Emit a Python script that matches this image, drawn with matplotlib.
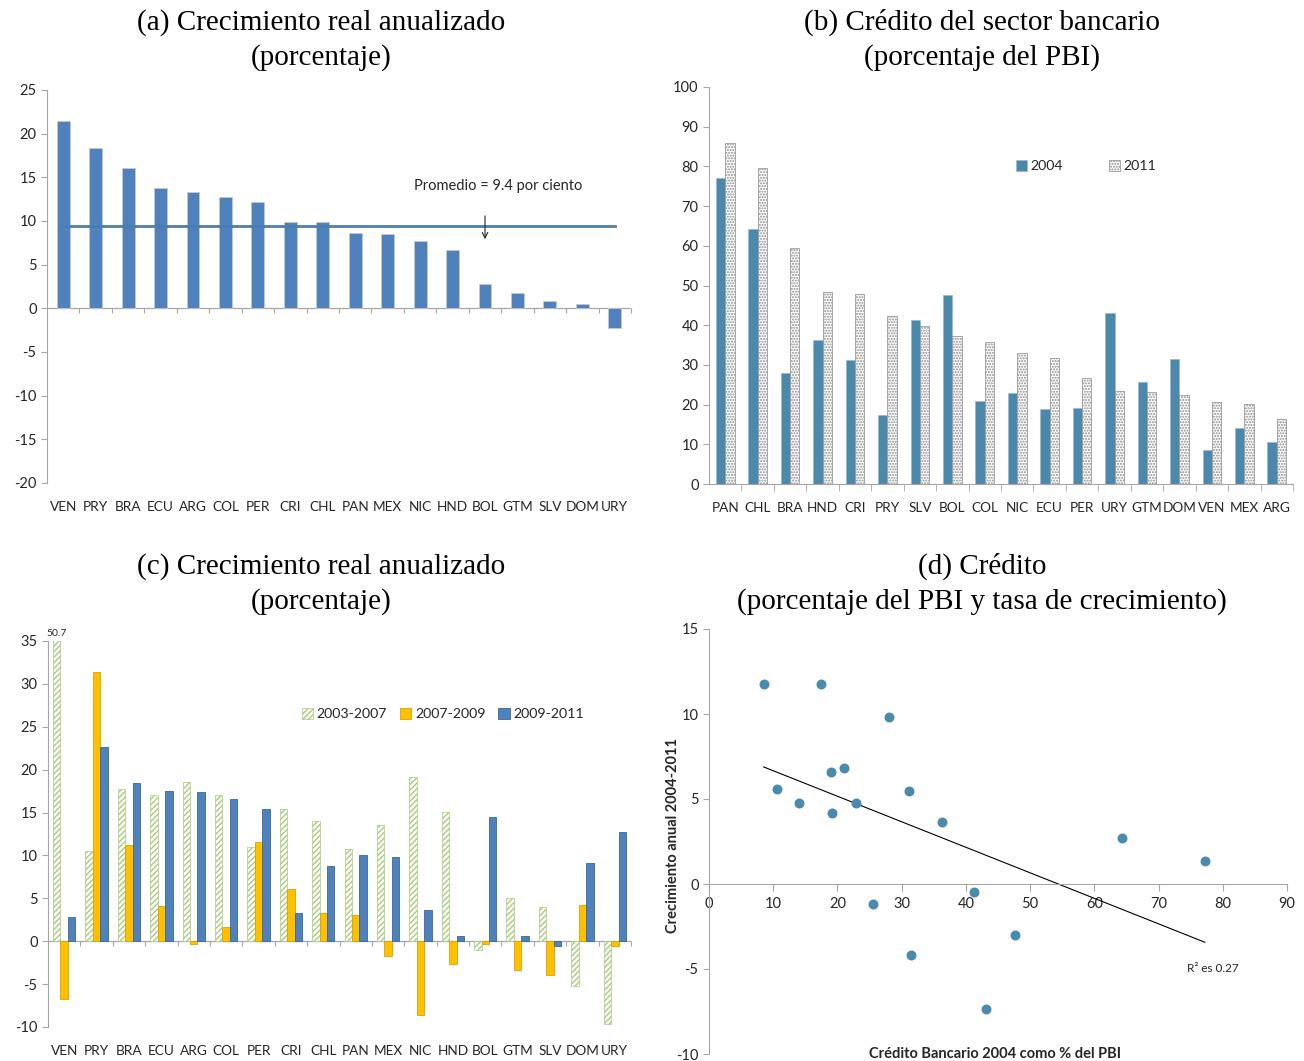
import numpy as np
import matplotlib
matplotlib.use("Agg")
import matplotlib.pyplot as plt

plt.rcParams['font.family'] = ['Lato', 'DejaVu Sans']
plt.rcParams['hatch.linewidth'] = 1.0
plt.rcParams['axes.unicode_minus'] = False

# panel (a)
a_paises = ['VEN', 'PRY', 'BRA', 'ECU', 'ARG', 'COL', 'PER', 'CRI', 'CHL', 'PAN',
            'MEX', 'NIC', 'HND', 'BOL', 'GTM', 'SLV', 'DOM', 'URY']
a_crec = [21.5, 18.4, 16.1, 13.8, 13.3, 12.8, 12.2, 9.9, 9.9, 8.6,
          8.5, 7.7, 6.7, 2.8, 1.7, 0.8, 0.5, -2.2]
promedio = 9.4

# panel (b)
b_paises = ['PAN', 'CHL', 'BRA', 'HND', 'CRI', 'PRY', 'SLV', 'BOL', 'COL', 'NIC',
            'ECU', 'PER', 'URY', 'GTM', 'DOM', 'VEN', 'MEX', 'ARG']
b_2004 = [77.2, 64.3, 28.0, 36.3, 31.2, 17.4, 41.2, 47.6, 21.0, 22.9,
          19.0, 19.2, 43.1, 25.6, 31.5, 8.5, 14.0, 10.6]
b_2011 = [86.0, 79.5, 59.4, 48.3, 47.8, 42.3, 39.8, 37.3, 35.7, 33.0,
          31.7, 26.6, 23.4, 23.2, 22.4, 20.7, 20.2, 16.4]

# panel (c)
c_paises = a_paises
c_0307 = [50.7, 10.5, 17.7, 17.1, 18.6, 17.0, 11.0, 15.4, 14.0, 10.8,
          13.5, 19.2, 15.1, -1.0, 5.0, 4.0, -5.2, -9.7]
c_0709 = [-6.7, 31.4, 11.2, 4.1, -0.3, 1.6, 11.6, 6.1, 3.3, 3.0,
          -1.7, -8.6, -2.6, -0.3, -3.4, -3.9, 4.2, -0.6]
c_0911 = [2.8, 22.7, 18.4, 17.5, 17.4, 16.6, 15.4, 3.3, 8.8, 10.1,
          9.8, 3.6, 0.6, 14.5, 0.6, -0.5, 9.1, 12.7]

# panel (d): credito 2004 vs crecimiento anual 2004-2011
d_paises = ['VEN', 'PRY', 'BRA', 'ECU', 'COL', 'ARG', 'MEX', 'PER', 'NIC', 'CRI',
            'HND', 'CHL', 'PAN', 'SLV', 'GTM', 'DOM', 'BOL', 'URY']
d_credito = [8.5, 17.4, 28.0, 19.0, 21.0, 10.6, 14.0, 19.2, 22.9, 31.2,
             36.3, 64.3, 77.2, 41.2, 25.6, 31.5, 47.6, 43.1]
d_crec = [11.75, 11.75, 9.85, 6.6, 6.85, 5.6, 4.75, 4.2, 4.75, 5.5,
          3.65, 2.7, 1.35, -0.45, -1.2, -4.2, -3.0, -7.35]

GRIS = '#a6a6a6'
TXT = '#262626'
W, H = 1304, 1061


def box(l, t, r, b):
    return [l / W, 1 - b / H, (r - l) / W, (b - t) / H]


def estilo(ax):
    for s in ['top', 'right']:
        ax.spines[s].set_visible(False)
    for s in ['left', 'bottom']:
        ax.spines[s].set_color(GRIS)
    ax.tick_params(colors=GRIS, labelcolor=TXT, labelsize=10.5)
    ax.tick_params(axis='x', labelsize=9.8)
    ax.tick_params(axis='y', length=4)


def marcas_cat(ax, n, largo):
    bordes = np.arange(n + 1) - 0.5
    ax.vlines(bordes[1:], 0, -largo, color=GRIS, lw=0.8, clip_on=False)


def leyenda(ax, px, py, **kw):
    ax.legend(loc='center left', bbox_to_anchor=(px / W, 1 - py / H),
              bbox_transform=fig.transFigure, frameon=False, fontsize=10.2,
              handlelength=0.8, handleheight=0.8, handletextpad=0.25,
              borderpad=0, borderaxespad=0, labelcolor=TXT, **kw)


fig = plt.figure(figsize=(W / 100, H / 100), dpi=100)
tfont = dict(family='Liberation Serif', fontsize=21, linespacing=1.42)

# ---------- (a)
ax = fig.add_axes(box(47, 90, 631, 483))
estilo(ax)
x = np.arange(len(a_paises))
ax.bar(x, a_crec, width=0.4, color='#4f81bd', edgecolor='#c8c8c8', lw=0.6, zorder=2)
ax.plot([x[0], x[-1]], [promedio, promedio], color='#4a7eb0', lw=2, zorder=3)
ax.axhline(0, color=GRIS, lw=0.9, zorder=1)
marcas_cat(ax, len(x), 0.55)
ax.set_xlim(-0.5, len(x) - 0.5)
ax.set_ylim(-20, 25)
ax.set_yticks(np.arange(-20, 26, 5))
ax.set_xticks(x, a_paises)
ax.tick_params(axis='x', length=0, pad=13)
ax.spines['bottom'].set_visible(False)
ax.annotate('', xy=(13, 7.6), xytext=(13, 10.9),
            arrowprops=dict(arrowstyle='->', color=TXT, lw=0.8))
ax.text(13.4, 14.0, 'Promedio = 9.4 por ciento', ha='center', va='center',
        fontsize=10.5, color=TXT)
fig.text(321 / W, 1 - 40 / H, '(a) Crecimiento real anualizado\n(porcentaje)',
         ha='center', va='center', **tfont)

# ---------- (b)
ax = fig.add_axes(box(709, 87, 1293, 484))
estilo(ax)
x = np.arange(len(b_paises))
w = 0.287
ax.bar(x - w / 2, b_2004, width=w, color='#4a89ac', edgecolor='#9ab8c8', lw=0.5,
       label='2004', zorder=2)
ax.bar(x + w / 2, b_2011, width=w, color='white', edgecolor='#8c8c8c', lw=0.5,
       hatch='......', label='2011', zorder=2)
ax.set_xlim(-0.5, len(x) - 0.5)
ax.set_ylim(0, 100)
ax.set_yticks(np.arange(0, 101, 10))
ax.set_xticks(x, b_paises)
ax.set_xticks(np.arange(len(x) + 1)[1:] - 0.5, minor=True)
ax.tick_params(axis='x', which='major', length=0, pad=13)
ax.tick_params(axis='x', which='minor', length=5, color=GRIS)
leyenda(ax, 1016, 166, ncol=2, columnspacing=3.2)
fig.text(982 / W, 1 - 40 / H, u'(b) Cr\u00e9dito del sector bancario\n(porcentaje del PBI)',
         ha='center', va='center', **tfont)

# ---------- (c)
ax = fig.add_axes(box(48, 641, 631, 1027))
estilo(ax)
x = np.arange(len(c_paises))
w = 0.23
ax.bar(x - w, c_0307, width=w, color='white', edgecolor='#a9c97a', lw=0.5,
       hatch='//////', label='2003-2007', zorder=2)
ax.bar(x, c_0709, width=w, color='#ffc000', edgecolor='#d9a300', lw=0.6,
       label='2007-2009', zorder=2)
ax.bar(x + w, c_0911, width=w, color='#4f81bd', edgecolor='#3c679a', lw=0.6,
       label='2009-2011', zorder=2)
ax.axhline(0, color=GRIS, lw=0.9, zorder=1)
marcas_cat(ax, len(x), 0.6)
ax.set_xlim(-0.5, len(x) - 0.5)
ax.set_ylim(-10, 35)
ax.set_yticks(np.arange(-10, 36, 5))
ax.set_xticks(x, c_paises)
ax.tick_params(axis='x', length=0, pad=13)
ax.spines['bottom'].set_visible(False)
ax.text(-w, 35.3, '%.1f' % c_0307[0], ha='center', va='bottom', fontsize=7.5, color=TXT)
leyenda(ax, 302, 714, ncol=3, columnspacing=0.9)
fig.text(321 / W, 1 - 584 / H, '(c) Crecimiento real anualizado\n(porcentaje)',
         ha='center', va='center', **tfont)

# ---------- (d)
ax = fig.add_axes(box(709, 629, 1287, 1054))
estilo(ax)
ax.tick_params(axis='x', labelsize=10.5)
ax.spines['bottom'].set_position(('data', 0))
ax.scatter(d_credito, d_crec, s=38, color='#4a8bad', zorder=3)
m, b = np.polyfit(d_credito, d_crec, 1)
xx = np.array([min(d_credito), max(d_credito)])
ax.plot(xx, m * xx + b, color='black', lw=0.8, zorder=2)
ax.set_xlim(0, 90)
ax.set_ylim(-10, 15)
ax.set_xticks(np.arange(0, 91, 10))
ax.set_yticks(np.arange(-10, 16, 5))
ax.tick_params(axis='x', length=5, pad=4)
ax.text(78.5, -5, u'R\u00b2 es 0.27', ha='center', va='center', fontsize=8.5, color=TXT)
ax.set_ylabel('Crecimiento anual 2004-2011', fontsize=10.5, fontweight='bold', color=TXT)
ax.yaxis.set_label_coords(-0.05, 0.513)
ax.text(44.5, -10.0, u'Cr\u00e9dito Bancario 2004 como % del PBI',
        ha='center', va='center', fontsize=10.5, fontweight='bold', color=TXT)
fig.text(982 / W, 1 - 584 / H, u'(d) Cr\u00e9dito\n(porcentaje del PBI y tasa de crecimiento)',
         ha='center', va='center', **tfont)

fig.savefig('out.png', dpi=100)
